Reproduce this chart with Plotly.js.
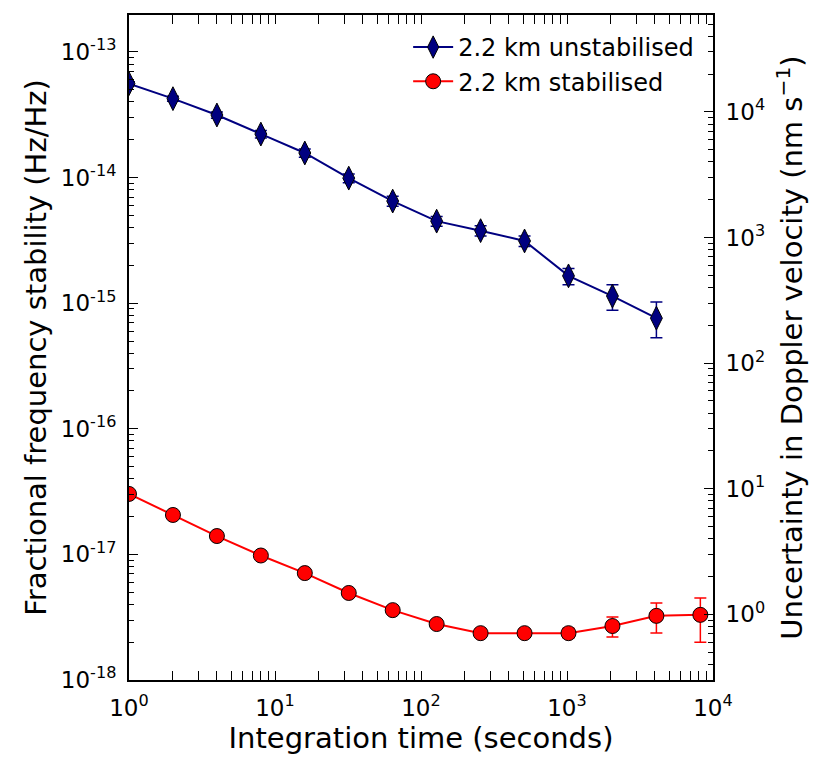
<!DOCTYPE html>
<html>
<head>
<meta charset="utf-8">
<script src="https://cdn.plot.ly/plotly-3.0.1.min.js"></script>
<style>
  html, body { margin: 0; padding: 0; background: #fff; }
  #plot { width: 830px; height: 773px; }
</style>
</head>
<body>
<div id="plot"></div>
<script>
// integration times (s)
let tauUnstab = [1, 2, 4, 8, 16, 32, 64, 128, 256, 512, 1024, 2048, 4096];
let tauStab = [1, 2, 4, 8, 16, 32, 64, 128, 256, 512, 1024, 2048, 4096, 8192];

// fractional frequency stability, 2.2 km unstabilised
let unstab = [5.6e-14, 4.25e-14, 3.15e-14, 2.22e-14, 1.57e-14, 9.9e-15, 6.5e-15,
    4.5e-15, 3.78e-15, 3.13e-15, 1.65e-15, 1.14e-15, 7.6e-16];
let unstabErrPlus = [2e-15, 2e-15, 1.8e-15, 1.5e-15, 1.2e-15, 8e-16, 6e-16,
    4e-16, 3.5e-16, 3e-16, 2.4e-16, 2.6e-16, 2.6e-16];
let unstabErrMinus = [2e-15, 2e-15, 1.8e-15, 1.5e-15, 1.2e-15, 8e-16, 6e-16,
    4e-16, 3.5e-16, 3e-16, 2.5e-16, 2.6e-16, 2.3e-16];

// fractional frequency stability, 2.2 km stabilised
let stab = [3.03e-17, 2.06e-17, 1.4e-17, 9.8e-18, 7.1e-18, 4.93e-18, 3.6e-18,
    2.79e-18, 2.36e-18, 2.36e-18, 2.36e-18, 2.69e-18, 3.24e-18, 3.3e-18];
let stabErrPlus = [0, 0, 0, 0, 0, 0, 0, 0, 0.1e-18, 0.12e-18, 0.22e-18, 0.49e-18, 0.86e-18, 1.2e-18];
let stabErrMinus = [0, 0, 0, 0, 0, 0, 0, 0, 0.1e-18, 0.12e-18, 0.2e-18, 0.49e-18, 0.87e-18, 1.3e-18];

// tick labels
let xTickVals = [1, 10, 100, 1000, 10000];
let xTickText = ['10<sup>0</sup>', '10<sup>1</sup>', '10<sup>2</sup>', '10<sup>3</sup>', '10<sup>4</sup>'];
let yTickVals = [1e-18, 1e-17, 1e-16, 1e-15, 1e-14, 1e-13];
let yTickText = ['10<sup>-18</sup>', '10<sup>-17</sup>', '10<sup>-16</sup>', '10<sup>-15</sup>',
    '10<sup>-14</sup>', '10<sup>-13</sup>'];
let y2TickVals = [1, 10, 100, 1000, 10000];
let y2TickText = ['10<sup>0</sup>', '10<sup>1</sup>', '10<sup>2</sup>', '10<sup>3</sup>', '10<sup>4</sup>'];

// left axis limits, and Doppler conversion (speed of light in nm/s)
let fracMin = 1e-18;
let fracMax = 1.97e-13;
let lightSpeedNm = 3.0e17;

let font = 'DejaVu Sans, sans-serif';

let traces = [
    {
        x: tauUnstab,
        y: unstab,
        name: '2.2 km unstabilised',
        type: 'scatter',
        mode: 'lines+markers',
        line: {color: '#000080', width: 2},
        marker: {symbol: 'diamond-tall', size: 17, color: '#000080',
            line: {color: '#000', width: 1}},
        error_y: {type: 'data', symmetric: false, array: unstabErrPlus,
            arrayminus: unstabErrMinus, color: '#000080', thickness: 1.5, width: 6}
    },
    {
        x: tauStab,
        y: stab,
        name: '2.2 km stabilised',
        type: 'scatter',
        mode: 'lines+markers',
        line: {color: '#ff0000', width: 2},
        marker: {symbol: 'circle', size: 15, color: '#ff0000',
            line: {color: '#000', width: 1}},
        error_y: {type: 'data', symmetric: false, array: stabErrPlus,
            arrayminus: stabErrMinus, color: '#ff0000', thickness: 1.5, width: 6}
    },
    // empty trace so the right-hand (Doppler) axis gets drawn
    {x: [], y: [], yaxis: 'y2', type: 'scatter', mode: 'markers', showlegend: false, hoverinfo: 'skip'}
];

let axisCommon = {
    type: 'log',
    showgrid: false,
    zeroline: false,
    showline: true,
    linecolor: '#000',
    linewidth: 2,
    ticks: 'inside',
    ticklen: 9,
    tickwidth: 1,
    tickcolor: '#000',
    tickmode: 'array',
    ticklabelstandoff: 6,
    tickfont: {family: font, size: 23, color: '#000'},
    minor: {ticks: 'inside', ticklen: 5, tickwidth: 1, tickcolor: '#000', dtick: 'D1'}
};

let titleFont = {family: font, size: 29, color: '#000'};

let layout = {
    width: 830,
    height: 773,
    margin: {l: 129, r: 117, t: 15, b: 93},
    paper_bgcolor: '#fff',
    plot_bgcolor: '#fff',
    showlegend: true,
    legend: {
        x: 0.478, y: 0.985, xanchor: 'left', yanchor: 'top',
        bgcolor: 'rgba(0,0,0,0)',
        font: {family: font, size: 24, color: '#000'},
        itemwidth: 40,
        tracegroupgap: 0
    },
    xaxis: Object.assign({}, axisCommon, {
        range: [0, 4],
        mirror: 'allticks',
        tickvals: xTickVals,
        ticktext: xTickText,
        title: {text: 'Integration time (seconds)', font: titleFont, standoff: 5}
    }),
    yaxis: Object.assign({}, axisCommon, {
        range: [Math.log10(fracMin), Math.log10(fracMax)],
        tickvals: yTickVals,
        ticktext: yTickText,
        title: {text: 'Fractional frequency stability (Hz/Hz)', font: titleFont, standoff: 6}
    }),
    yaxis2: Object.assign({}, axisCommon, {
        overlaying: 'y',
        side: 'right',
        range: [Math.log10(fracMin * lightSpeedNm), Math.log10(fracMax * lightSpeedNm)],
        tickvals: y2TickVals,
        ticktext: y2TickText,
        title: {text: 'Uncertainty in Doppler velocity (nm s<sup>−1</sup>)', font: titleFont, standoff: 18}
    })
};

Plotly.newPlot('plot', traces, layout, {displayModeBar: false, staticPlot: true});
</script>
</body>
</html>
